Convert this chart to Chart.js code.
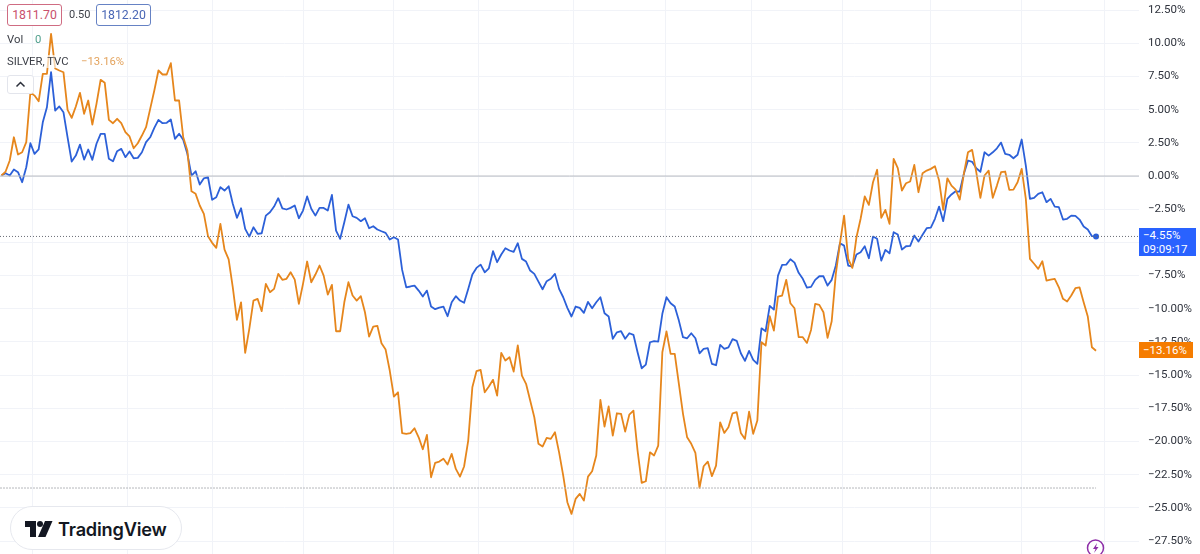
<!DOCTYPE html>
<html>
<head>
<meta charset="utf-8">
<title>SILVER, TVC</title>
<script src="https://cdn.jsdelivr.net/npm/chart.js@4"></script>
<style>
  html, body { margin: 0; padding: 0; background: #fff; }
  body { width: 1200px; height: 554px; position: relative; overflow: hidden; font-family: Roboto, sans-serif; font-size: 11.3px; color: #3c3f47; }
  canvas { position: absolute; left: 0; top: 0; }
  .abs { position: absolute; white-space: nowrap; }
  .box { border: 1px solid; border-radius: 3px; height: 20px; line-height: 20px; width: 53px; text-align: center; background: #fff; font-size: 12.3px; }
  .badge { color: #fff; line-height: 14px; text-align: left; padding-left: 4px; box-sizing: border-box; font-size: 11.5px; }
  .logo { left: 10px; top: 506px; width: 170px; height: 42px; border: 1px solid #e6e8ee; border-radius: 22px; background: #fff; }
</style>
</head>
<body>
<canvas id="chart" width="1200" height="554"></canvas>

<div class="abs box" style="left:7px;top:4px;color:#c9506c;border-color:#cf6c82">1811.70</div>
<div class="abs" style="left:69px;top:8px;font-size:11px">0.50</div>
<div class="abs box" style="left:96px;top:4px;color:#4a67b5;border-color:#6682c4">1812.20</div>
<div class="abs" style="left:7px;top:33px">Vol</div>
<div class="abs" style="left:35px;top:33px;color:#4f9f8c">0</div>
<div class="abs" style="left:7px;top:55px;background:rgba(255,255,255,.65)">SILVER, TVC</div>
<div class="abs" style="left:81px;top:55px;color:#e3a35d">−13.16%</div>
<div class="abs" style="left:7px;top:75px;width:25px;height:17px;border:1px solid #e3e5ec;border-radius:3px;background:#fff">
  <svg width="25" height="17"><path d="M8.5 10.5 L12.5 6.5 L16.5 10.5" fill="none" stroke="#2a2e39" stroke-width="1.5"/></svg>
</div>

<div class="abs badge" style="left:1139px;top:228px;width:57px;height:28px;background:#2962ff">−4.55%<br>09:09:17</div>
<div class="abs badge" style="left:1139px;top:342px;width:54px;height:16px;line-height:16px;background:#f57c00">−13.16%</div>

<div class="abs logo"></div>
<svg class="abs" style="left:25px;top:520px" width="28" height="18" viewBox="0 0 28 18">
  <path d="M0 1 H11 V17 H5 V7 H0 Z" fill="#131722"/>
  <circle cx="15" cy="4" r="3" fill="#131722"/>
  <path d="M20 1 H27.5 L20.5 17 H13 Z" fill="#131722"/>
</svg>
<div class="abs" style="left:58px;top:515px;font-family:Inter,sans-serif;font-weight:600;font-size:18.2px;line-height:28px;color:#131722;letter-spacing:-0.2px">TradingView</div>

<svg class="abs" style="left:1085px;top:538px" width="20" height="16" viewBox="0 0 20 16">
  <circle cx="10.5" cy="10" r="8" fill="#fff" stroke="#8e2fa8" stroke-width="1.5"/>
  <path d="M12 5 L8 11 H10.5 L9 15 L13.5 9 H11 Z" fill="#8e2fa8"/>
</svg>

<script>
const blueValues = [
  0.04, 0.21, 0.04, 0.49, 0.29, -0.47, 0.66, 2.47, 1.67, 2.00, 4.05, 5.18, 7.82, 4.93, 5.24, 4.81, 2.92, 1.09, 1.54, 2.37,
  1.24, 2.00, 1.22, 2.43, 3.18, 3.18, 1.30, 1.11, 1.87, 2.05, 1.42, 1.85, 1.34, 1.37, 1.79, 2.55, 2.92, 3.63, 4.23, 3.98,
  4.01, 4.26, 2.80, 3.18, 2.73, 1.67, 0.04, 0.36, -0.64, -0.17, -0.09, -1.79, -1.60, -0.84, -1.09, -0.77, -2.09, -3.15, -2.43, -3.98,
  -4.56, -3.86, -4.35, -4.31, -2.98, -2.73, -2.30, -1.67, -2.43, -2.52, -2.40, -2.22, -3.18, -2.60, -1.54, -2.47, -2.98, -2.40, -2.40, -2.60,
  -1.42, -4.11, -4.73, -3.48, -2.15, -3.03, -3.15, -3.40, -3.18, -3.93, -3.78, -4.03, -4.16, -4.28, -4.78, -4.61, -4.78, -7.07, -8.38, -8.32,
  -8.25, -8.63, -9.08, -8.63, -9.83, -10.03, -9.91, -9.83, -10.56, -9.51, -9.05, -9.38, -9.55, -8.50, -7.42, -6.92, -6.67, -7.25, -6.95, -5.66,
  -6.49, -5.91, -5.44, -5.61, -5.71, -5.06, -6.24, -6.44, -7.12, -7.37, -7.95, -8.53, -7.92, -7.74, -7.37, -8.50, -9.13, -9.93, -10.58, -9.83,
  -9.93, -10.31, -9.48, -9.96, -9.51, -9.13, -10.34, -10.58, -12.26, -11.77, -11.69, -12.26, -11.84, -11.96, -13.27, -14.48, -14.20, -12.52, -12.44, -12.47,
  -10.38, -9.13, -9.58, -9.83, -10.89, -12.14, -12.22, -11.84, -12.22, -13.35, -13.02, -12.97, -14.15, -14.25, -12.72, -13.02, -12.90, -12.29, -12.41, -13.35,
  -13.92, -13.17, -13.85, -14.15, -11.47, -11.69, -9.78, -10.06, -7.50, -6.69, -6.67, -6.27, -6.52, -7.29, -7.74, -8.40, -8.35, -7.82, -7.55, -7.55,
  -8.25, -7.82, -6.74, -5.06, -5.24, -6.74, -6.82, -5.91, -5.74, -5.29, -6.19, -4.56, -4.73, -6.37, -5.56, -5.82, -4.23, -4.41, -5.54, -5.29,
  -5.26, -4.48, -4.93, -4.43, -3.93, -3.88, -3.22, -2.30, -3.40, -1.72, -1.39, -1.15, -1.17, 0.17, 1.17, 1.07, 0.59, 0.32, 1.79, 1.54,
  1.79, 2.09, 2.52, 1.67, 1.60, 1.34, 1.60, 2.75, 0.79, -1.72, -1.64, -1.34, -1.22, -1.97, -1.72, -2.30, -2.35, -3.28, -3.22, -2.98,
  -3.00, -3.28, -3.80, -4.03, -4.53, -4.55
];

const silverValues = [
  0.04, 0.34, 1.17, 2.92, 1.62, 1.79, 2.55, 6.31, 6.06, 5.63, 7.70, 7.70, 10.71, 8.10, 7.95, 7.82, 4.99, 4.38, 5.24, 6.27,
  4.69, 5.69, 3.88, 5.44, 7.25, 7.02, 4.23, 3.98, 4.31, 3.98, 3.30, 2.98, 2.09, 2.47, 3.05, 3.68, 5.06, 6.44, 7.95, 7.65,
  7.65, 8.50, 5.69, 5.69, 2.92, 1.92, -1.15, -1.34, -2.22, -2.85, -4.53, -5.03, -5.41, -3.60, -5.54, -6.27, -8.38, -10.83, -9.51, -13.32,
  -11.51, -9.38, -9.25, -10.18, -8.12, -8.75, -8.50, -7.37, -7.82, -7.74, -7.25, -7.80, -9.63, -8.12, -6.44, -8.00, -7.42, -6.74, -7.50, -8.93,
  -8.20, -11.69, -11.69, -9.51, -8.00, -9.00, -9.38, -9.05, -10.26, -12.09, -11.34, -11.28, -12.60, -13.07, -14.65, -16.61, -16.29, -19.37, -19.42, -19.37,
  -19.00, -19.68, -20.58, -19.50, -22.69, -21.60, -21.51, -21.30, -21.73, -20.93, -22.06, -22.64, -21.88, -19.93, -15.91, -14.70, -14.60, -16.29, -15.86, -15.35,
  -16.54, -13.32, -13.90, -13.65, -14.73, -12.75, -15.03, -15.65, -16.91, -18.17, -20.17, -20.38, -19.72, -19.80, -19.30, -20.81, -22.56, -24.57, -25.45, -24.32,
  -23.94, -24.45, -22.64, -22.24, -21.05, -16.86, -18.87, -17.36, -19.55, -17.87, -17.91, -19.25, -17.97, -17.67, -20.68, -23.11, -22.99, -20.81, -21.05, -20.30,
  -13.27, -11.71, -13.39, -13.39, -15.65, -17.91, -19.68, -20.17, -20.85, -23.49, -21.86, -21.51, -22.61, -21.81, -18.55, -19.35, -18.92, -17.87, -17.79, -19.35,
  -19.80, -17.74, -19.42, -18.42, -12.52, -12.77, -10.56, -11.64, -9.08, -9.00, -7.82, -9.58, -9.96, -12.14, -12.14, -12.57, -11.59, -9.63, -9.70, -10.26,
  -12.19, -10.94, -7.37, -5.08, -2.98, -6.24, -6.92, -4.61, -3.22, -1.54, -2.17, -0.47, 0.47, -3.15, -2.55, -3.60, 1.30, 0.59, -1.09, -0.54,
  -0.41, 0.84, -1.22, 0.21, 0.41, 0.54, 0.74, -0.34, -2.55, -0.17, -0.72, -1.02, -1.77, 0.17, 1.79, 1.97, 0.29, -1.64, 0.04, 0.41,
  -1.64, -0.72, 0.29, 0.34, -1.04, -1.02, -0.47, 0.54, -1.72, -6.24, -6.61, -6.99, -6.42, -7.87, -7.80, -7.74, -8.38, -9.25, -9.45, -9.00,
  -8.45, -8.38, -9.51, -10.58, -12.90, -13.16
];

const yTicks = [12.5, 10, 7.5, 5, 2.5, 0, -2.5, -5, -7.5, -10, -12.5, -15, -17.5, -20, -22.5, -25, -27.5];
const xGridBars = [7.4, 30.4, 51.2, 73, 94.8, 115.6, 138.4, 160.7, 181.5, 203.5, 225, 246.9, 267];

const zeroLine = 0;
const lastBlue = -4.55;
const lowLine = -23.5;

const bars = blueValues.map((_, i) => i);
const lastBar = bars.length - 1;

function toPoints(values) {
  return values.map((v, i) => ({ x: bars[i], y: v }));
}

function levelLine(value, fromBar, toBar) {
  return [{ x: fromBar, y: value }, { x: toBar, y: value }];
}

function tickLabel(value) {
  const text = Math.abs(value).toFixed(2) + '%';
  return value < 0 ? '−' + text : text;
}

const xMin = -0.36;
const xMax = 275.4;

new Chart(document.getElementById('chart').getContext('2d'), {
  type: 'line',
  data: {
    datasets: [
      { data: levelLine(zeroLine, xMin, xMax), borderColor: '#b8bbc2', borderWidth: 1, pointRadius: 0 },
      { data: levelLine(lastBlue, xMin, xMax), borderColor: '#6a6d75', borderWidth: 1, borderDash: [1, 2], pointRadius: 0 },
      { data: levelLine(lowLine, xMin, lastBar), borderColor: '#b5b7bb', borderWidth: 1, borderDash: [2, 1], pointRadius: 0 },
      {
        label: 'SILVER, TVC',
        data: toPoints(silverValues),
        borderColor: '#e6861c',
        borderWidth: 1.8,
        pointRadius: 0,
        borderJoinStyle: 'round'
      },
      {
        label: 'GOLD',
        data: toPoints(blueValues),
        borderColor: '#2c60d8',
        backgroundColor: '#2c60d8',
        borderWidth: 1.8,
        borderJoinStyle: 'round',
        pointRadius: ctx => ctx.dataIndex === lastBar ? 3 : 0,
        pointBorderWidth: 0
      }
    ]
  },
  options: {
    responsive: false,
    animation: false,
    layout: { padding: 0, autoPadding: false },
    plugins: { legend: { display: false }, tooltip: { enabled: false } },
    scales: {
      x: {
        type: 'linear',
        bounds: 'data',
        min: xMin,
        max: xMax,
        border: { display: false },
        grid: { color: '#f1f3f8', tickLength: 0 },
        ticks: { display: false },
        afterBuildTicks: axis => { axis.ticks = xGridBars.map(value => ({ value })); },
        afterFit: axis => { axis.height = 0; axis.paddingLeft = 0; axis.paddingRight = 0; }
      },
      y: {
        position: 'right',
        bounds: 'data',
        min: -28.47,
        max: 13.26,
        border: { display: false },
        grid: { color: '#f1f3f8', tickLength: 0 },
        ticks: {
          autoSkip: false,
          padding: 9,
          color: '#2f333d',
          font: { family: 'Roboto', size: 11.5 },
          callback: value => tickLabel(value)
        },
        afterBuildTicks: axis => { axis.ticks = yTicks.map(value => ({ value })); },
        // ticks stop short of the canvas edges, no room needed for half labels
        afterFit: axis => { axis.width = 61; axis.paddingTop = 0; axis.paddingBottom = 0; }
      }
    }
  }
});
</script>
</body>
</html>
